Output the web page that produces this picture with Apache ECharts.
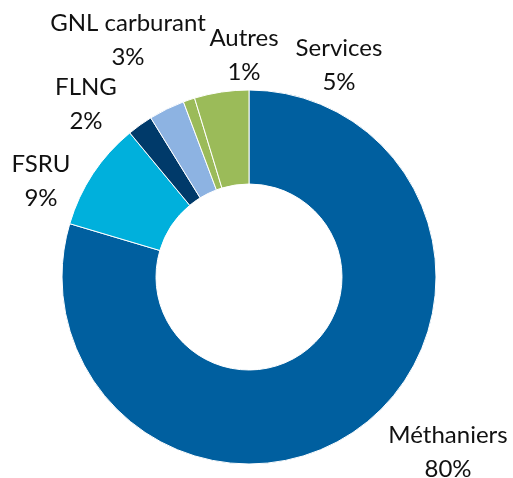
<!DOCTYPE html>
<html>
<head>
<meta charset="utf-8">
<script src="https://cdn.jsdelivr.net/npm/echarts@6/dist/echarts.min.js"></script>
<style>
  html, body { margin: 0; padding: 0; background: #fff; }
  #chart { width: 513px; height: 478px; }
</style>
</head>
<body>
<div id="chart"></div>
<script>
// parts de marché (%)
const categories = ['Méthaniers', 'FSRU', 'FLNG', 'GNL carburant', 'Autres', 'Services']
const shares = [79.6, 9.4, 2.2, 3.1, 1.0, 4.7]
const colors = ['#005F9F', '#00B0DC', '#003A6A', '#8DB3E2', '#9BBB59', '#9BBB59']

// centre de chaque étiquette (position fixe, comme dans l'original)
const labelPos = [
  [448, 452],
  [41, 181],
  [86, 104],
  [128, 40],
  [244, 55],
  [339, 65],
]

const chart = echarts.init(document.getElementById('chart'))

chart.setOption({
  animation: false,
  series: [
    {
      type: 'pie',
      center: [249, 277],
      radius: [93, 187],
      startAngle: 90,
      clockwise: true,
      avoidLabelOverlap: false,
      itemStyle: { borderColor: '#fff', borderWidth: 1 },
      label: {
        show: true,
        position: 'outside',
        fontFamily: 'Lato',
        fontSize: 24,
        lineHeight: 34,
        color: '#111',
        align: 'center',
        formatter: (p) => p.name + '\n' + Math.round(p.value) + '%',
      },
      labelLine: { show: false },
      labelLayout: (params) => ({
        x: labelPos[params.dataIndex][0],
        y: labelPos[params.dataIndex][1],
        align: 'center',
        verticalAlign: 'middle',
      }),
      emphasis: { disabled: true },
      data: categories.map((name, i) => ({
        name,
        value: shares[i],
        itemStyle: { color: colors[i] },
      })),
    },
  ],
})
</script>
</body>
</html>
